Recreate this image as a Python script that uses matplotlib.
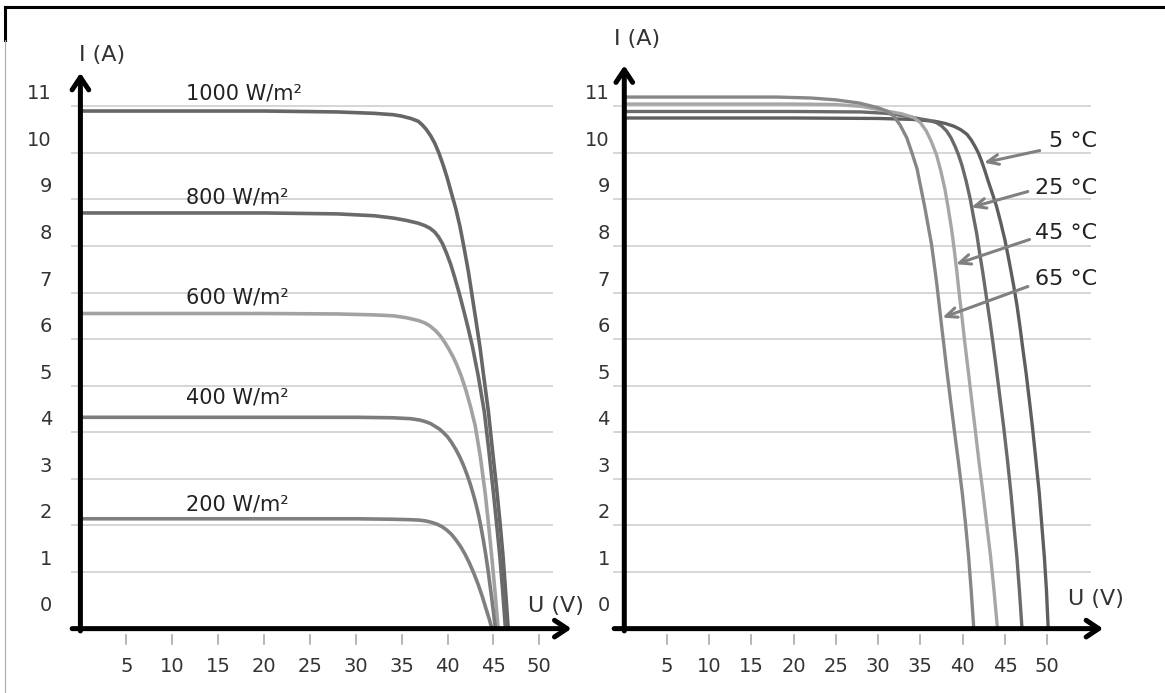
import matplotlib
matplotlib.use('Agg')
import matplotlib.pyplot as plt
from matplotlib.lines import Line2D
from matplotlib.transforms import ScaledTranslation

plt.rcParams['font.family'] = ['DejaVu Sans']

# Curvas I-U según irradiancia (U en V, I en A)
u_1000 = [0, 10, 20, 28, 32, 34.1, 35.0, 36.0, 36.8, 37.25, 37.7, 38.15, 38.6, 39.05, 39.5, 39.95, 40.4,
          40.9, 41.35, 41.8, 42.26, 42.7, 43.17, 43.55, 43.9, 44.45, 44.9, 45.4, 45.75, 46.05, 46.35, 46.6]
i_1000 = [10.9, 10.9, 10.9, 10.88, 10.85, 10.82, 10.79, 10.74, 10.68, 10.6, 10.5, 10.37, 10.21, 10.0, 9.75, 9.47, 9.15,
          8.8, 8.42, 7.96, 7.46, 6.9, 6.3, 5.8, 5.26, 4.44, 3.6, 2.69, 1.98, 1.32, 0.5, -0.2]
u_800 = [0, 10, 20, 28, 32, 34.1, 35.5, 36.8, 37.5, 38.1, 38.6, 39.0, 39.45, 39.9, 40.35, 40.8, 41.25, 41.7,
         42.2, 42.7, 43.35, 44.0, 44.5, 45.0, 45.35, 45.7, 46.0, 46.3]
i_800 = [8.71, 8.71, 8.71, 8.69, 8.65, 8.6, 8.55, 8.49, 8.44, 8.38, 8.3, 8.2, 8.05, 7.84, 7.6, 7.31, 7.0, 6.66,
         6.27, 5.85, 5.2, 4.44, 3.6, 2.69, 2.02, 1.32, 0.6, -0.2]
u_600 = [0, 10, 20, 28, 32, 34.1, 35.5, 36.8, 37.5, 38.1, 38.7, 39.2, 39.7, 40.1, 40.6, 41.0, 41.5, 42.0,
         42.5, 43.0, 43.55, 44.1, 44.5, 44.85, 45.2, 45.5]
i_600 = [6.55, 6.55, 6.55, 6.54, 6.52, 6.5, 6.46, 6.4, 6.35, 6.28, 6.18, 6.07, 5.93, 5.8, 5.62, 5.45, 5.2, 4.9,
         4.55, 4.15, 3.5, 2.69, 1.95, 1.25, 0.5, -0.2]
u_400 = [0, 10, 20, 30, 34, 36, 37, 37.7, 38.2, 38.6, 39.1, 39.5, 40.0, 40.4, 40.9, 41.35, 41.75, 42.1,
         42.45, 42.8, 43.1, 43.4, 43.65, 43.9, 44.15, 44.4, 44.6, 44.8, 45.0, 45.2]
i_400 = [4.32, 4.32, 4.32, 4.32, 4.31, 4.29, 4.26, 4.22, 4.18, 4.13, 4.07, 4.0, 3.9, 3.79, 3.63, 3.46, 3.28, 3.1,
         2.9, 2.67, 2.45, 2.2, 1.95, 1.68, 1.38, 1.05, 0.75, 0.45, 0.13, -0.2]
u_200 = [0, 10, 20, 30, 34, 36, 37, 37.7, 38.3, 38.9, 39.4, 39.9, 40.4, 40.9, 41.4, 41.9, 42.4, 42.9,
         43.35, 43.8, 44.2, 44.55, 44.8]
i_200 = [2.14, 2.14, 2.14, 2.14, 2.13, 2.12, 2.11, 2.09, 2.06, 2.02, 1.97, 1.9, 1.81, 1.69, 1.55, 1.38, 1.18, 0.95,
         0.72, 0.46, 0.2, -0.02, -0.2]
etiquetas_irr = ['1000 W/m²', '800 W/m²', '600 W/m²', '400 W/m²', '200 W/m²']

# Curvas I-U según temperatura
u_5 = [0, 10, 20, 30, 34, 36.7, 38.0, 39.0, 39.75, 40.5, 41.0, 41.45, 41.85, 42.2, 42.6, 43.0, 43.5, 44.0,
       44.5, 45.0, 45.5, 46.0, 46.4, 46.75, 47.1, 47.5, 47.9, 48.25, 48.65, 49.05, 49.35, 49.65, 49.9, 50.1]
i_5 = [10.75, 10.75, 10.75, 10.74, 10.72, 10.68, 10.63, 10.57, 10.5, 10.4, 10.28, 10.14, 10.0, 9.84, 9.63, 9.4, 9.13, 8.85,
       8.5, 8.12, 7.66, 7.17, 6.74, 6.29, 5.8, 5.26, 4.65, 4.1, 3.4, 2.69, 2.0, 1.32, 0.6, -0.2]
u_25 = [0, 10, 20, 28, 31, 33, 35, 36.0, 36.9, 37.5, 38.1, 38.6, 39.1, 39.5, 39.9, 40.4, 40.9, 41.25, 41.65,
        42.0, 42.4, 42.8, 43.2, 43.55, 43.95, 44.4, 44.85, 45.3, 45.7, 46.05, 46.4, 46.7, 47.0]
i_25 = [10.89, 10.89, 10.89, 10.88, 10.85, 10.8, 10.73, 10.7, 10.65, 10.58, 10.47, 10.33, 10.14, 9.96, 9.74, 9.4, 9.0, 8.65, 8.27,
        7.85, 7.4, 6.9, 6.41, 5.95, 5.4, 4.75, 4.1, 3.38, 2.69, 2.0, 1.32, 0.6, -0.2]
u_45 = [0, 10, 20, 25, 28, 31, 32.8, 34.2, 35.0, 35.7, 36.3, 36.9, 37.4, 37.9, 38.3, 38.7, 39.0, 39.3,
        39.6, 39.95, 40.25, 40.6, 41.0, 41.45, 41.9, 42.4, 42.85, 43.3, 43.7, 44.1]
i_45 = [11.05, 11.05, 11.05, 11.04, 11.0, 10.9, 10.84, 10.76, 10.65, 10.47, 10.24, 9.96, 9.62, 9.22, 8.8, 8.34, 7.92, 7.46,
        6.95, 6.41, 5.92, 5.4, 4.78, 4.1, 3.4, 2.69, 2.0, 1.32, 0.6, -0.2]
u_65 = [0, 10, 18, 22, 25, 27.8, 30, 31.0, 31.8, 32.6, 33.4, 34.0, 34.6, 35.0, 35.5, 35.9, 36.3, 36.6,
        36.9, 37.2, 37.5, 37.8, 38.1, 38.55, 39.0, 39.5, 39.95, 40.35, 40.7, 41.0, 41.3]
i_65 = [11.2, 11.2, 11.2, 11.18, 11.14, 11.07, 10.97, 10.9, 10.8, 10.6, 10.32, 10.0, 9.66, 9.3, 8.85, 8.45, 8.05, 7.65,
        7.24, 6.77, 6.29, 5.83, 5.36, 4.7, 4.05, 3.35, 2.69, 2.0, 1.32, 0.6, -0.2]
etiquetas_temp = ['5 °C', '25 °C', '45 °C', '65 °C']

ticks_u = [5, 10, 15, 20, 25, 30, 35, 40, 45, 50]
ticks_i = [0, 1, 2, 3, 4, 5, 6, 7, 8, 9, 10, 11]

colores_irr = ['#666666', '#6a6a6a', '#a2a2a2', '#7c7c7c', '#808080']
colores_temp = ['#5e5e5e', '#6a6a6a', '#a6a6a6', '#878787']

fig = plt.figure(figsize=(11.65, 6.93), dpi=100)
ax1 = fig.add_axes([0, 0, 0.5, 1])
ax2 = fig.add_axes([0.5, 0, 0.5, 1])
ax1.set_xlim(-8.76, 54.70)
ax2.set_xlim(-4.94, 63.91)
for ax in (ax1, ax2):
    ax.set_ylim(-1.603, 13.285)
    ax.axis('off')

y_eje = -0.22


def dibujar_ejes(ax, x_grid0, x_grid1, x_punta, y_punta, x_lab, pos_u, pos_i):
    # cuadrícula horizontal
    for k in ticks_i[1:]:
        ax.plot([x_grid0, x_grid1], [k, k], color='#d6d6d6', lw=1.4, zorder=1)
    # marcas del eje U
    for t in ticks_u:
        ax.plot([t, t], [-0.36, -0.55], color='#aaaaaa', lw=1.2, zorder=1)
        ax.text(t, -1.04, str(t), ha='center', va='center', fontsize=14, color='#333333')
    desplaz = ScaledTranslation(0, 9 / 72, fig.dpi_scale_trans)
    for k in ticks_i:
        ax.text(x_lab, k, str(k), ha='right', va='center', fontsize=14,
                color='#333333', transform=ax.transData + desplaz)
    flecha = dict(arrowstyle='->,head_length=0.9,head_width=0.6', lw=3.6,
                  color='black', shrinkA=0, shrinkB=0)
    ax.annotate('', xy=(x_punta, y_eje), xytext=(x_grid0, y_eje),
                arrowprops=flecha, annotation_clip=False, zorder=5)
    ax.annotate('', xy=(0, y_punta), xytext=(0, y_eje - 0.05),
                arrowprops=flecha, annotation_clip=False, zorder=5)
    ax.text(pos_u[0], pos_u[1], 'U (V)', ha='left', va='center', fontsize=16, color='#333333')
    ax.text(pos_i[0], pos_i[1], 'I (A)', ha='left', va='center', fontsize=16, color='#333333')


# Panel izquierdo: irradiancia
dibujar_ejes(ax1, -0.9, 51.4, 53.5, 11.72, -3.1, (48.8, 0.27), (-0.1, 12.1))
curvas_irr = [(u_1000, i_1000), (u_800, i_800), (u_600, i_600), (u_400, i_400), (u_200, i_200)]
pos_irr = [11.27, 9.05, 6.89, 4.74, 2.44]
for (u, i), col, et, yt in zip(curvas_irr, colores_irr, etiquetas_irr, pos_irr):
    ax1.plot(u, i, color=col, lw=2.6, zorder=3, solid_joinstyle='round', solid_capstyle='butt')
    ax1.text(11.5, yt, et, ha='left', va='center', fontsize=15, color='#222222')

# Panel derecho: temperatura
dibujar_ejes(ax2, -1.2, 55.0, 56.6, 11.88, -1.7, (52.5, 0.42), (-1.2, 12.45))
curvas_temp = [(u_5, i_5), (u_25, i_25), (u_45, i_45), (u_65, i_65)]
for (u, i), col in zip(curvas_temp, colores_temp):
    ax2.plot(u, i, color=col, lw=2.4, zorder=3, solid_joinstyle='round', solid_capstyle='butt')

texto_temp = [10.26, 9.25, 8.28, 7.29]
origen_flecha = [(49.1, 10.05), (47.7, 9.17), (47.9, 8.14), (47.7, 7.13)]
punta_flecha = [(42.5, 9.79), (41.0, 8.83), (39.2, 7.61), (37.6, 6.46)]
for et, yt, o, p in zip(etiquetas_temp, texto_temp, origen_flecha, punta_flecha):
    ax2.text(55.9, yt, et, ha='right', va='center', fontsize=16, color='#222222')
    ax2.annotate('', xy=p, xytext=o,
                 arrowprops=dict(arrowstyle='->,head_length=0.8,head_width=0.35',
                                 lw=2.2, color='#808080', shrinkA=0, shrinkB=0),
                 zorder=4)

# Marco de la imagen
fig.add_artist(Line2D([5 / 1165, 1], [1 - 7 / 693, 1 - 7 / 693], color='black', lw=2.2))
fig.add_artist(Line2D([5 / 1165, 5 / 1165], [1 - 7 / 693, 1 - 40 / 693], color='black', lw=2.2))
fig.add_artist(Line2D([5 / 1165, 5 / 1165], [0, 1 - 40 / 693], color='#aaaaaa', lw=0.8))

fig.savefig('out.png', dpi=100)
